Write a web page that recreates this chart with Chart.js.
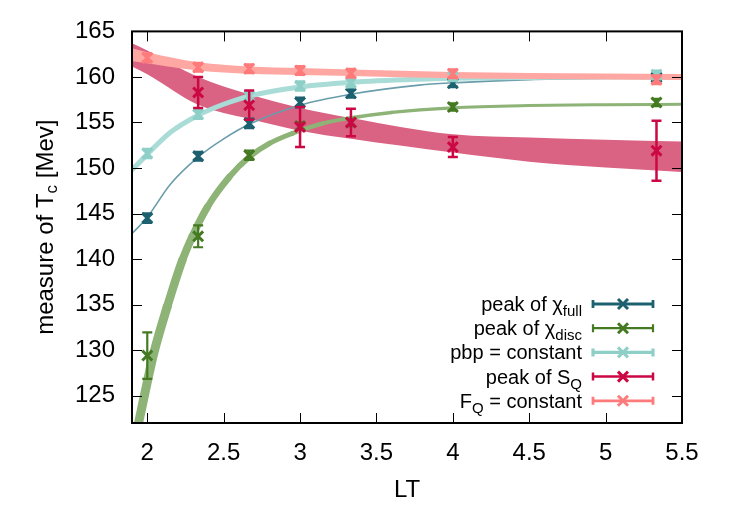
<!DOCTYPE html>
<html>
<head>
<meta charset="utf-8">
<script src="https://cdn.jsdelivr.net/npm/chart.js@4.4.0/dist/chart.umd.min.js"></script>
<style>
  html, body { margin: 0; padding: 0; background: #fff; }
</style>
</head>
<body>
<canvas id="grafico" width="731" height="511"></canvas>
<script>
// ---------------- datos ----------------

const ltPuntos = [2, 2.333, 2.667, 3, 3.333, 4, 5.333]

const chiFull = [144.5, 151.3, 154.9, 157.2, 158.2, 159.3, 159.95]
const chiFullErr = [0.5, 0.45, 0.5, 0.5, 0.45, 0.4, 0.4]

const chiDisc = [129.4, 142.5, 151.4, 154.6, 155.0, 156.7, 157.2]
const chiDiscErr = [2.55, 1.2, 0.5, 0.4, 0.4, 0.4, 0.4]

const pbp = [151.6, 155.9, 157.9, 159.0, 159.35, 160.0, 160.25]
const pbpErr = [0.45, 0.45, 0.45, 0.45, 0.45, 0.4, 0.4]

const sq = [null, 158.3, 156.9, 154.5, 155.0, 152.3, 151.9]
const sqErr = [null, 1.7, 1.6, 2.2, 1.5, 1.1, 3.3]

const fq = [162.1, 161.05, 160.9, 160.7, 160.4, 160.35, 159.7]
const fqErr = [0.45, 0.45, 0.45, 0.45, 0.45, 0.45, 0.45]

// curvas de ajuste
const chiFullAjusteX = [1.9, 2.0, 2.15, 2.333, 2.5, 2.667, 3.0, 3.333, 3.78, 4.0, 4.5, 5.0, 5.5]
const chiFullAjusteY = [142.8, 144.6, 148.2, 151.2, 153.2, 154.8, 156.9, 158.1, 159.1, 159.35, 159.7, 159.85, 159.95]

const chiDiscAjusteX = [1.9, 1.967, 2.0, 2.044, 2.131, 2.23, 2.295, 2.393, 2.536, 2.667, 2.8, 2.95, 3.15, 3.333, 3.6, 4.0, 4.5, 5.0, 5.5]
const chiDiscAjusteY = [118.6, 123.9, 126.5, 129.75, 134.8, 139.9, 142.5, 145.7, 149.0, 151.2, 152.7, 153.8, 154.9, 155.5, 156.1, 156.6, 156.85, 156.95, 157.0]

const pbpAjusteX = [1.9, 2.0, 2.15, 2.333, 2.5, 2.667, 3.0, 3.333, 3.78, 4.0, 4.5, 5.0, 5.5]
const pbpAjusteY = [149.8, 151.5, 153.9, 155.8, 157.0, 157.9, 158.9, 159.4, 159.75, 159.85, 159.95, 160.0, 160.0]

// bandas (borde superior / inferior)
const sqBandaX = [1.9, 2.0, 2.333, 2.667, 3.0, 3.333, 4.0, 4.5, 5.0, 5.5]
const sqBandaAlta = [163.7, 162.9, 160.0, 158.1, 156.6, 155.5, 153.7, 153.35, 153.1, 152.9]
const sqBandaBaja = [161.15, 160.3, 156.95, 155.4, 154.1, 153.2, 151.7, 150.7, 150.05, 149.55]

const fqBandaX = [1.9, 2.0, 2.333, 2.667, 3.0, 3.333, 4.0, 4.5, 5.0, 5.5]
const fqBandaAlta = [163.15, 162.7, 161.6, 161.15, 160.98, 160.81, 160.54, 160.43, 160.38, 160.33]
const fqBandaBaja = [161.75, 161.5, 160.7, 160.35, 160.22, 160.09, 159.86, 159.77, 159.72, 159.67]

// ejes
const xTicks = [2, 2.5, 3, 3.5, 4, 4.5, 5, 5.5]
const yTicks = [125, 130, 135, 140, 145, 150, 155, 160, 165]

// leyenda: texto antes del subindice, subindice, texto despues
const leyendaPre = ['peak of \u03c7', 'peak of \u03c7', 'pbp = constant', 'peak of S', 'F']
const leyendaSub = ['full', 'disc', '', 'Q', 'Q']
const leyendaPost = ['', '', '', '', ' = constant']


// ---------------- estilos ----------------
const colores = ['#1d6170', '#447a22', '#8ecfc8', '#cc0844', '#ff7b7b']
const grosorError = [2.8, 2.2, 3.2, 2.5, 2.8]

// grosor de la banda verde segun LT (se estrecha hacia la derecha)
const grosorVerde = [[2.1, 9], [2.4, 7], [2.7, 5.5], [3.2, 4], [4.0, 3]]
const anchoVerde = x => {
  if (x <= grosorVerde[0][0]) return grosorVerde[0][1]
  for (let i = 1; i < grosorVerde.length; i++) {
    const [xa, wa] = grosorVerde[i - 1]
    const [xb, wb] = grosorVerde[i]
    if (x <= xb) return wa + (wb - wa) * (x - xa) / (xb - xa)
  }
  return grosorVerde[grosorVerde.length - 1][1]
}

Chart.defaults.font.family = '"Liberation Sans", Arial, sans-serif'
Chart.defaults.color = '#000'

const puntos = (xs, ys) => xs.map((x, i) => ({ x: x, y: ys[i] }))

const serieAjuste = (xs, ys, color, ancho, orden) => ({
  data: puntos(xs, ys),
  borderColor: color,
  borderWidth: ancho,
  borderCapStyle: 'round',
  borderJoinStyle: 'round',
  pointRadius: 0,
  fill: false,
  cubicInterpolationMode: 'monotone',
  order: orden
})

const serieBanda = (xs, ys, relleno, orden) => ({
  data: puntos(xs, ys),
  borderColor: 'rgba(0,0,0,0)',
  borderWidth: 0,
  pointRadius: 0,
  backgroundColor: relleno || 'rgba(0,0,0,0)',
  fill: relleno ? '-1' : false,
  cubicInterpolationMode: 'monotone',
  order: orden
})

const seriePuntos = (ys, errs, n, orden) => ({
  data: puntos(ltPuntos, ys),
  errores: errs,
  serie: n,
  showLine: false,
  borderColor: colores[n],
  pointStyle: 'crossRot',
  pointRadius: 7,
  pointBorderWidth: 3,
  pointBorderColor: colores[n],
  pointBackgroundColor: colores[n],
  order: orden
})

const datasets = [
  serieBanda(sqBandaX, sqBandaAlta, null, 101),
  serieBanda(sqBandaX, sqBandaBaja, '#da6282', 100),
  Object.assign(serieAjuste(chiDiscAjusteX, chiDiscAjusteY, '#8db376', 5, 90), {
    segment: { borderWidth: c => anchoVerde((c.p0.parsed.x + c.p1.parsed.x) / 2) }
  }),
  serieAjuste(chiFullAjusteX, chiFullAjusteY, '#6a9dab', 1.6, 80),
  serieAjuste(pbpAjusteX, pbpAjusteY, '#a9dcd6', 5, 70),
  serieBanda(fqBandaX, fqBandaAlta, null, 61),
  serieBanda(fqBandaX, fqBandaBaja, '#ffa8a3', 60),
  seriePuntos(chiFull, chiFullErr, 0, 50),
  seriePuntos(chiDisc, chiDiscErr, 1, 40),
  seriePuntos(pbp, pbpErr, 2, 30),
  seriePuntos(sq, sqErr, 3, 20),
  seriePuntos(fq, fqErr, 4, 10)
]


// ---------------- plugins ----------------

// barras de error, justo despues de pintar cada serie
const barrasError = {
  id: 'barrasError',
  afterDatasetDraw(chart, args) {
    const ds = chart.data.datasets[args.index]
    if (!ds.errores) return
    const ctx = chart.ctx
    const xs = chart.scales.x
    const ys = chart.scales.y
    const area = chart.chartArea
    ctx.save()
    ctx.beginPath()
    ctx.rect(area.left, area.top, area.right - area.left, area.bottom - area.top)
    ctx.clip()
    ctx.strokeStyle = colores[ds.serie]
    ctx.lineWidth = grosorError[ds.serie]
    ds.data.forEach((p, i) => {
      const e = ds.errores[i]
      if (p.y == null || e == null) return
      const px = xs.getPixelForValue(p.x)
      const y1 = ys.getPixelForValue(p.y + e)
      const y2 = ys.getPixelForValue(p.y - e)
      ctx.beginPath()
      ctx.moveTo(px, y1); ctx.lineTo(px, y2)
      ctx.moveTo(px - 5, y1); ctx.lineTo(px + 5, y1)
      ctx.moveTo(px - 5, y2); ctx.lineTo(px + 5, y2)
      ctx.stroke()
    })
    ctx.restore()
  }
}

// marco y marcas hacia dentro
const marco = {
  id: 'marco',
  afterDatasetsDraw(chart) {
    const ctx = chart.ctx
    const a = chart.chartArea
    const xs = chart.scales.x
    const ys = chart.scales.y
    ctx.save()
    ctx.strokeStyle = '#000'
    ctx.lineWidth = 1
    ctx.beginPath()
    for (const v of xTicks) {
      const px = Math.round(xs.getPixelForValue(v)) + 0.5
      ctx.moveTo(px, a.bottom); ctx.lineTo(px, a.bottom - 10)
      ctx.moveTo(px, a.top); ctx.lineTo(px, a.top + 10)
    }
    for (const v of yTicks) {
      const py = Math.round(ys.getPixelForValue(v)) + 0.5
      ctx.moveTo(a.left, py); ctx.lineTo(a.left + 10, py)
      ctx.moveTo(a.right, py); ctx.lineTo(a.right - 10, py)
    }
    ctx.stroke()
    ctx.lineWidth = 2
    ctx.strokeRect(a.left, a.top, a.right - a.left, a.bottom - a.top)
    ctx.restore()
  }
}

// titulo del eje y y leyenda (con subindices)
const textos = {
  id: 'textos',
  afterDraw(chart) {
    const ctx = chart.ctx
    const fuente = s => s + 'px "Liberation Sans", Arial, sans-serif'
    ctx.save()
    ctx.fillStyle = '#000'
    ctx.textBaseline = 'alphabetic'

    // eje y: measure of T_c [Mev]
    ctx.save()
    ctx.translate(53, (chart.chartArea.top + chart.chartArea.bottom) / 2)
    ctx.rotate(-Math.PI / 2)
    ctx.font = fuente(24)
    const t1 = 'measure of T', t3 = ' [Mev]'
    const w1 = ctx.measureText(t1).width
    const w3 = ctx.measureText(t3).width
    ctx.font = fuente(17)
    const w2 = ctx.measureText('c').width
    let x0 = -(w1 + w2 + w3) / 2
    ctx.font = fuente(24)
    ctx.fillText(t1, x0, 0)
    ctx.font = fuente(17)
    ctx.fillText('c', x0 + w1, 4)
    ctx.font = fuente(24)
    ctx.fillText(t3, x0 + w1 + w2, 0)
    ctx.restore()

    // leyenda
    const finTexto = 582
    const lineaIni = 593, lineaFin = 653, marcaX = 623
    leyendaPre.forEach((pre, i) => {
      const fy = 304 + i * 24.2
      ctx.font = fuente(20)
      const wa = ctx.measureText(pre).width
      const wc = ctx.measureText(leyendaPost[i]).width
      ctx.font = fuente(15)
      const wb = ctx.measureText(leyendaSub[i]).width
      let tx = finTexto - wa - wb - wc
      ctx.font = fuente(20)
      ctx.fillText(pre, tx, fy + 7)
      ctx.font = fuente(15)
      ctx.fillText(leyendaSub[i], tx + wa, fy + 12)
      ctx.font = fuente(20)
      ctx.fillText(leyendaPost[i], tx + wa + wb, fy + 7)

      ctx.strokeStyle = colores[i]
      ctx.lineWidth = grosorError[i]
      ctx.beginPath()
      ctx.moveTo(lineaIni, fy); ctx.lineTo(lineaFin, fy)
      ctx.moveTo(lineaIni, fy - 4); ctx.lineTo(lineaIni, fy + 4)
      ctx.moveTo(lineaFin, fy - 4); ctx.lineTo(lineaFin, fy + 4)
      ctx.stroke()
      ctx.lineWidth = 3
      ctx.beginPath()
      ctx.moveTo(marcaX - 5, fy - 5); ctx.lineTo(marcaX + 5, fy + 5)
      ctx.moveTo(marcaX - 5, fy + 5); ctx.lineTo(marcaX + 5, fy - 5)
      ctx.stroke()
    })
    ctx.restore()
  }
}


// ---------------- grafico ----------------

const grafico = document.getElementById('grafico')

new Chart(grafico, {
  type: 'line',
  data: { datasets: datasets },
  options: {
    responsive: false,
    animation: false,
    devicePixelRatio: 1,
    layout: { padding: { top: 26, right: 49, left: 0, bottom: 0 } },
    plugins: {
      legend: { display: false },
      tooltip: { enabled: false }
    },
    scales: {
      x: {
        type: 'linear',
        min: 1.9,
        max: 5.5,
        afterBuildTicks: s => { s.ticks = xTicks.map(v => ({ value: v })) },
        afterFit: s => { s.height = 88 },
        grid: { display: false, drawTicks: false },
        border: { display: false },
        ticks: { font: { size: 24 }, padding: 16, maxRotation: 0, autoSkip: false, callback: v => String(v) },
        title: { display: true, text: 'LT', font: { size: 24 }, padding: { top: 0, bottom: 6 } }
      },
      y: {
        type: 'linear',
        min: 122,
        max: 165,
        afterBuildTicks: s => { s.ticks = yTicks.map(v => ({ value: v })) },
        afterFit: s => { s.width = 132 },
        grid: { display: false, drawTicks: false },
        border: { display: false },
        ticks: { font: { size: 24 }, padding: 17, autoSkip: false, callback: v => String(v) }
      }
    }
  },
  plugins: [barrasError, marco, textos]
})
</script>
</body>
</html>
